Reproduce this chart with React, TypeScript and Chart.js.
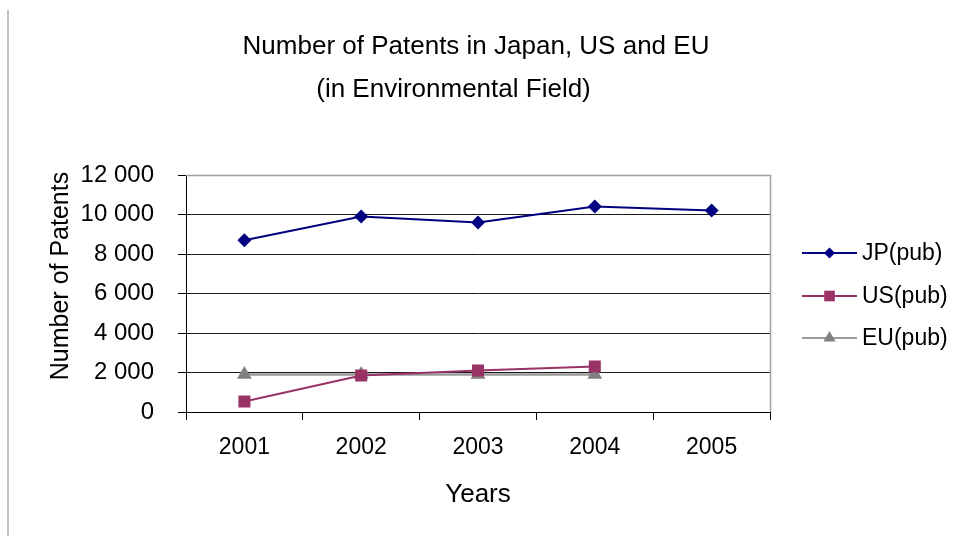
import React, { useEffect, useRef } from "react";
import { Chart, registerables } from "chart.js";

Chart.register(...registerables);

// ---- data ----
const years = ["2001", "2002", "2003", "2004", "2005"];
const jpPub = [8700, 9900, 9600, 10400, 10200];
const usPub: (number | null)[] = [530, 1850, 2100, 2300, null];
const euPub: (number | null)[] = [1900, 1900, 1900, 1900, null];
const seriesLabels = ["JP(pub)", "US(pub)", "EU(pub)"];
const titleLines = ["Number of Patents in Japan, US and EU", "(in Environmental Field)"];
const yAxisTitle = "Number of Patents";
const xAxisTitle = "Years";
const yMin = 0;
const yMax = 12000;
const yStep = 2000;

const FONT = "Arial, 'Liberation Sans', sans-serif";

const fmt = (v: number) => String(v).replace(/\B(?=(\d{3})+(?!\d))/g, " ");

function marker(ctx: CanvasRenderingContext2D, style: string, x: number, y: number, r: number, color: string) {
  ctx.save();
  ctx.fillStyle = color;
  ctx.beginPath();
  if (style === "rectRot") {
    ctx.moveTo(x, y - r);
    ctx.lineTo(x + r, y);
    ctx.lineTo(x, y + r);
    ctx.lineTo(x - r, y);
  } else if (style === "rect") {
    const s = r * Math.SQRT1_2;
    ctx.rect(x - s, y - s, 2 * s, 2 * s);
  } else {
    ctx.moveTo(x, y - r);
    ctx.lineTo(x + r * 0.866, y + r * 0.5);
    ctx.lineTo(x - r * 0.866, y + r * 0.5);
  }
  ctx.closePath();
  ctx.fill();
  ctx.restore();
}

const decorPlugin = {
  id: "decor",
  beforeDraw(chart: any) {
    const ctx = chart.ctx as CanvasRenderingContext2D;
    ctx.save();
    ctx.fillStyle = "#ffffff";
    ctx.fillRect(0, 0, chart.width, chart.height);
    ctx.strokeStyle = "#c4c4c4";
    ctx.lineWidth = 2;
    ctx.beginPath();
    ctx.moveTo(8, 10);
    ctx.lineTo(8, chart.height);
    ctx.stroke();
    ctx.restore();
  },
  beforeDatasetsDraw(chart: any) {
    const ctx = chart.ctx as CanvasRenderingContext2D;
    const a = chart.chartArea;
    ctx.save();
    ctx.strokeStyle = "#a0a0a0";
    ctx.lineWidth = 1.5;
    ctx.beginPath();
    ctx.moveTo(Math.round(a.left), Math.round(a.top) + 0.5);
    ctx.lineTo(Math.round(a.right) + 0.5, Math.round(a.top) + 0.5);
    ctx.lineTo(Math.round(a.right) + 0.5, Math.round(a.bottom));
    ctx.stroke();
    ctx.restore();
  },
  afterDraw(chart: any) {
    const ctx = chart.ctx as CanvasRenderingContext2D;
    ctx.save();
    ctx.fillStyle = "#000000";
    ctx.font = `26px ${FONT}`;
    ctx.textAlign = "center";
    ctx.textBaseline = "alphabetic";
    ctx.fillText(titleLines[0], 476, 54);
    ctx.fillText(titleLines[1], 453.5, 97);

    // y axis title
    ctx.save();
    ctx.font = `25px ${FONT}`;
    ctx.translate(61, 276);
    ctx.rotate(-Math.PI / 2);
    ctx.textAlign = "center";
    ctx.textBaseline = "middle";
    ctx.fillText(yAxisTitle, 0, 0);
    ctx.restore();

    // legend
    const rows = [253, 296, 338];
    const legendR = [5.5, 7.5, 7];
    chart.data.datasets.forEach((ds: any, i: number) => {
      const y = rows[i];
      ctx.strokeStyle = ds.borderColor;
      ctx.lineWidth = 2;
      ctx.beginPath();
      ctx.moveTo(802, y);
      ctx.lineTo(857, y);
      ctx.stroke();
      marker(ctx, ds.pointStyle, 829.5, y, legendR[i], ds.pointBackgroundColor);
      ctx.fillStyle = "#000000";
      ctx.font = `23px ${FONT}`;
      ctx.textAlign = "left";
      ctx.textBaseline = "middle";
      ctx.fillText(ds.label, 862, y + 1);
    });
    ctx.restore();
  },
};

export default function App() {
  const ref = useRef<HTMLCanvasElement | null>(null);

  useEffect(() => {
    document.body.style.margin = "0";
    const canvas = ref.current!;
    const chart = new Chart(canvas, {
      type: "line",
      data: {
        labels: years,
        datasets: [
          {
            label: seriesLabels[0],
            data: jpPub,
            borderColor: "#000080",
            backgroundColor: "#000080",
            pointBackgroundColor: "#000080",
            pointBorderColor: "#000080",
            pointStyle: "rectRot",
            pointRadius: 7,
            pointBorderWidth: 0,
            borderWidth: 2,
            tension: 0,
          },
          {
            label: seriesLabels[1],
            data: usPub,
            borderColor: "#993366",
            backgroundColor: "#993366",
            pointBackgroundColor: "#993366",
            pointBorderColor: "#993366",
            pointStyle: "rect",
            pointRadius: 8.5,
            pointBorderWidth: 0,
            borderWidth: 2,
            tension: 0,
          },
          {
            label: seriesLabels[2],
            data: euPub,
            borderColor: "#9a9a9a",
            backgroundColor: "#808080",
            pointBackgroundColor: "#808080",
            pointBorderColor: "#808080",
            pointStyle: "triangle",
            pointRadius: 8.5,
            pointBorderWidth: 0,
            borderWidth: 2.5,
            tension: 0,
          },
        ],
      },
      options: {
        animation: false,
        responsive: false,
        maintainAspectRatio: false,
        devicePixelRatio: 1,
        layout: { padding: { top: 175, right: 187, left: 0, bottom: 0 } },
        plugins: {
          legend: { display: false },
          title: { display: false },
          tooltip: { enabled: false },
        },
        scales: {
          x: {
            type: "category",
            offset: true,
            afterFit: (s: any) => {
              s.height = 124;
            },
            grid: {
              display: true,
              drawOnChartArea: false,
              drawTicks: true,
              tickLength: 8,
              color: "#000000",
              offset: true,
            },
            border: { display: true, color: "#000000", width: 1 },
            ticks: {
              color: "#000000",
              font: { family: FONT, size: 23 },
              padding: 14,
              maxRotation: 0,
            },
            title: {
              display: true,
              text: xAxisTitle,
              color: "#000000",
              font: { family: FONT, size: 26 },
              padding: { top: 0, bottom: 26 },
            },
          },
          y: {
            min: yMin,
            max: yMax,
            afterFit: (s: any) => {
              s.width = 186;
            },
            grid: {
              drawTicks: true,
              tickLength: 8,
              color: (c: any) => (c.tick && c.tick.value === yMax ? "rgba(0,0,0,0)" : "#1a1a1a"),
              tickColor: "#000000",
              lineWidth: 1,
            },
            border: { display: true, color: "#000000", width: 1 },
            ticks: {
              stepSize: yStep,
              color: "#000000",
              font: { family: FONT, size: 24 },
              padding: 24,
              callback: (v: any) => fmt(Number(v)),
            },
            title: { display: false },
          },
        },
      } as any,
      plugins: [decorPlugin],
    });
    return () => chart.destroy();
  }, []);

  return (
    <div style={{ width: 957, height: 536 }}>
      <canvas ref={ref} width={957} height={536} style={{ display: "block", width: 957, height: 536 }} />
    </div>
  );
}
